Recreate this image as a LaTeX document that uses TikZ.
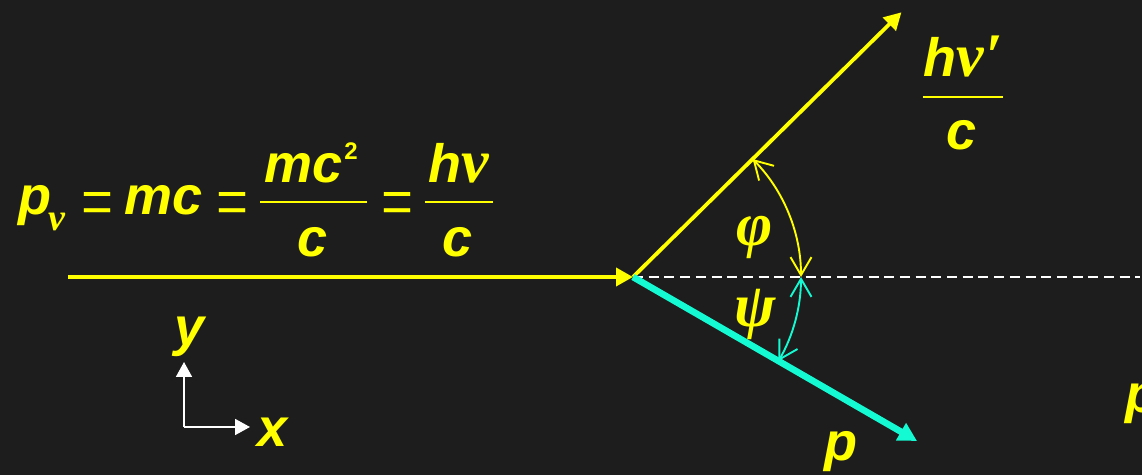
\documentclass[tikz,border=0pt]{standalone}
\usepackage{fontspec}
\usepackage{graphicx}
\setmainfont{Liberation Sans}
\newfontfamily\grk{Liberation Serif}
\usetikzlibrary{arrows.meta,calc}
\definecolor{bg}{RGB}{29,29,29}
\definecolor{ylw}{RGB}{255,255,0}
\definecolor{cyn}{RGB}{20,250,210}
\newcommand{\lat}{\fontsize{27}{30}\selectfont\bfseries\itshape}
\newcommand{\gr}[1]{\fontsize{#1}{#1}\selectfont\grk\bfseries\itshape}
\newcommand{\eqs}{\fontsize{27}{30}\selectfont\grk\upshape\mdseries\scalebox{1.05}[1.5]{=}}
\begin{document}
\begin{tikzpicture}[x=0.5pt,y=-0.5pt,
  txt/.style={inner sep=0pt,anchor=base,text=ylw},
  yline/.style={draw=ylw,line width=1.9pt,-{Triangle[length=8.5pt,width=9pt]}},
  eline/.style={draw=cyn,line width=3.3pt,-{Triangle[length=9.3pt,width=9.5pt]}},
  axis/.style={draw=white,line width=0.9pt,-{Triangle[length=7.5pt,width=8pt]}},
  fracbar/.style={draw=ylw,line width=1.2pt},
  dline/.style={draw=white,line width=1.4pt,dash pattern=on 5pt off 2.85pt},
  angarc/.style={line width=0.95pt,{Straight Barb[length=9pt,width=10.5pt]}-{Straight Barb[length=9pt,width=10.5pt]}}]
\useasboundingbox (0,0) rectangle (1142,475);
\fill[bg] (0,0) rectangle (1142,475);
% coordinates
\coordinate (O) at (633,277);
\coordinate (S) at (68,277);
\coordinate (E) at (1140,277);
\coordinate (Ph) at ($(O)+(-44.6:377)$);
\coordinate (El) at ($(O)+(30:328)$);
\coordinate (Ah) at ($(O)+(0:168)$);
% lines
\draw[dline] (O) -- (E);
\draw[yline] (S) -- (O);
\draw[yline] (O) -- (Ph);
\draw[eline] (O) -- (El);
\draw[angarc,draw=ylw] (Ah) arc[start angle=0,end angle=-44.6,radius=168];
\draw[angarc,draw=cyn] (Ah) arc[start angle=0,end angle=30,radius=168];
% axes
\coordinate (A) at (184,427);
\coordinate (Ay) at (184,362);
\coordinate (Ax) at (250,427);
\draw[axis] (A) -- (Ay);
\draw[axis] (A) -- (Ax);
\node[txt] (ylab) at (190,346) {\lat y};
\node[txt] (xlab) at (273,447) {\lat x};
% left formula
\node[txt] (p1) at (35,215) {\lat p};
\node[txt] (nu1) at (57,231) {\gr{19}ν};
\node[txt] (eq1) at (97,230) {\eqs};
\node[txt] (mc1) at (164,215) {\lat mc};
\node[txt] (eq2) at (232,230) {\eqs};
\node[txt] (mc2) at (304,183) {\lat mc};
\node[txt,anchor=base west] (sq) at (344,160) {\fontsize{12}{12}\selectfont\bfseries 2};
\draw[fracbar] (260,202) -- (367,202);
\node[txt] (c1) at (313,257) {\lat c};
\node[txt] (eq3) at (397,230) {\eqs};
\node[txt] (hnu) at (459,183) {\lat h\gr{31}ν};
\draw[fracbar] (425,202) -- (493,202);
\node[txt] (c2) at (458,257) {\lat c};
% scattered photon label
\node[txt] (hnup) at (963,77) {\lat h\gr{31}ν\kern1pt′};
\draw[fracbar] (923,97) -- (1003,97);
\node[txt] (c3) at (962,150) {\lat c};
% angle labels
\node[txt,anchor=center] (phi) at (755,237) {\gr{31}φ};
\node[txt,anchor=center] (psi) at (755,314) {\gr{31}ψ};
% momentum labels
\node[txt] (pe) at (841,461) {\lat p};
\node[txt,anchor=base west] (pr) at (1125,413) {\lat p};
\end{tikzpicture}
\end{document}
